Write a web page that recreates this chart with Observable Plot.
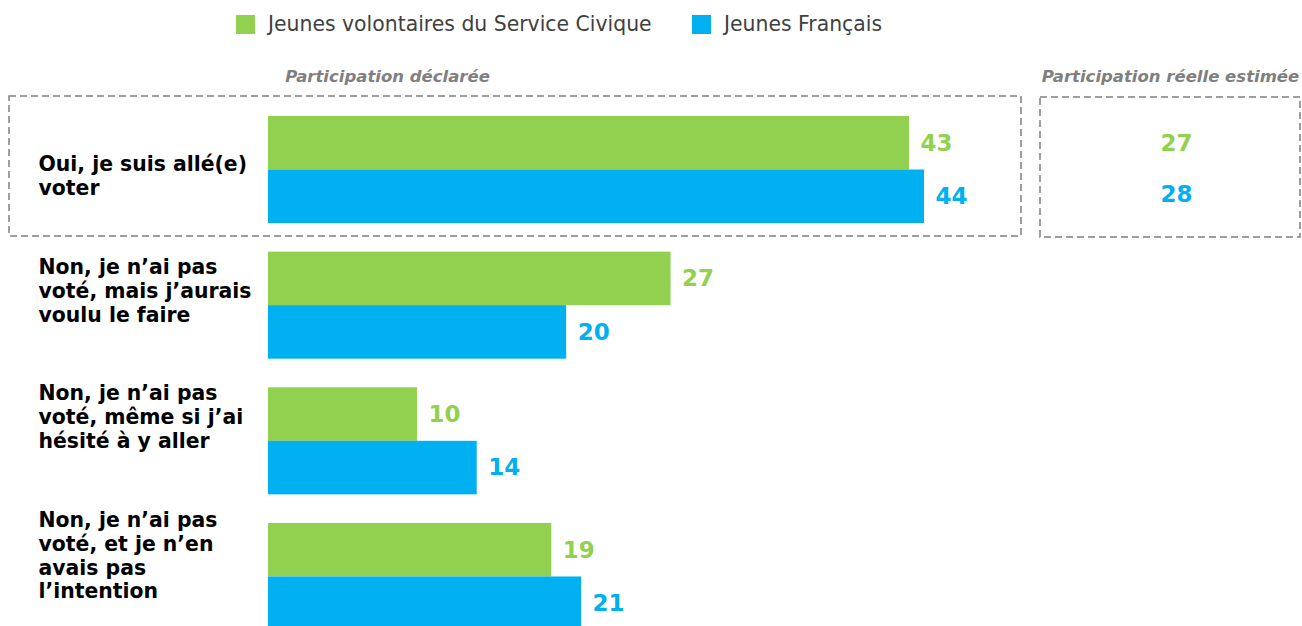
<!DOCTYPE html>
<html>
<head>
<meta charset="utf-8">
<script src="https://cdn.jsdelivr.net/npm/d3@7"></script>
<script src="https://cdn.jsdelivr.net/npm/@observablehq/plot@0.6"></script>
<style>
  html, body { margin: 0; padding: 0; background: #fff; overflow: hidden; }
  #legend { position: relative; width: 1302px; height: 56px; font-family: "DejaVu Sans", sans-serif; font-size: 20.4px; color: #404040; }
  #legend .sw { position: absolute; top: 15px; width: 19px; height: 19px; }
  #legend .lb { position: absolute; top: 11px; line-height: 26px; white-space: nowrap; }
  #chart svg { display: block; }
</style>
</head>
<body>
<div id="legend"></div>
<div id="chart"></div>
<script>
// ---- data ----
const categories = [
  "Oui, je suis allé(e)\nvoter",
  "Non, je n’ai pas\nvoté, mais j’aurais\nvoulu le faire",
  "Non, je n’ai pas\nvoté, même si j’ai\nhésité à y aller",
  "Non, je n’ai pas\nvoté, et je n’en\navais pas\nl’intention"
];
const series = ["Jeunes volontaires du Service Civique", "Jeunes Français"];
const volontaires = [43, 27, 10, 19];
const jeunes = [44, 20, 14, 21];
const reelleEstimee = [27, 28]; // volontaires, jeunes
const headers = ["Participation déclarée", "Participation réelle estimée"];

// ---- styles ----
const colors = ["#92D050", "#00B0F0"];
const grey = "#7F7F7F";
const font = "DejaVu Sans";

// legend (HTML above the svg)
const legend = document.getElementById("legend");
const legendPos = [[236, 268], [692, 724]];
series.forEach((s, i) => {
  const sw = document.createElement("div");
  sw.className = "sw"; sw.style.left = legendPos[i][0] + "px"; sw.style.background = colors[i];
  const lb = document.createElement("div");
  lb.className = "lb"; lb.style.left = legendPos[i][1] + "px"; lb.textContent = s;
  legend.appendChild(sw); legend.appendChild(lb);
});

const rows = categories.flatMap((c, i) => [
  {cat: c, serie: series[0], value: volontaires[i]},
  {cat: c, serie: series[1], value: jeunes[i]}
]);
const rowsV = rows.filter(d => d.serie === series[0]);
const rowsJ = rows.filter(d => d.serie === series[1]);
const reelle = series.map((s, i) => ({cat: categories[0], serie: s, value: reelleEstimee[i]}));

const half = 53.5;
const xMax = d3.max(rows, d => d.value);
const labelShift = [5, -15, -25, -22];

const boxStyle = {fill: "none", stroke: grey, strokeWidth: 1.5, strokeDasharray: "7,4"};
const valueStyle = {fill: "serie", fontSize: 23, fontWeight: "bold"};
const headerStyle = {frameAnchor: "top-left", dy: 14, text: d => d, textAnchor: "middle", fill: grey, fontSize: 16.5, fontWeight: "bold", fontStyle: "italic"};

const chart = Plot.plot({
  width: 1302,
  height: 570,
  margin: 0,
  style: {fontFamily: font, background: "white"},
  x: {domain: [0, xMax], range: [268, 924], axis: null},
  y: {domain: categories, range: [60, 574], paddingInner: 0.211, paddingOuter: 0, round: false, axis: null},
  color: {domain: series, range: colors},
  marks: [
    // dashed boxes
    Plot.barX([categories[0]], {y: d => d, x1: 0, x2: xMax, insetLeft: -259, insetRight: -97, insetTop: -20, insetBottom: -13, ...boxStyle}),
    Plot.barX([categories[0]], {y: d => d, x1: xMax, x2: xMax, insetLeft: 116, insetRight: -376, insetTop: -19, insetBottom: -14, ...boxStyle}),
    // column headers
    Plot.text([headers[0]], {...headerStyle, dx: 387}),
    Plot.text([headers[1]], {...headerStyle, dx: 1170}),
    // bars
    Plot.barX(rowsV, {x: "value", y: "cat", fill: "serie", insetBottom: half}),
    Plot.barX(rowsJ, {x: "value", y: "cat", fill: "serie", insetTop: half}),
    // value labels
    Plot.text(rowsV, {x: "value", y: "cat", text: d => String(d.value), dx: 11, dy: -half / 2, textAnchor: "start", ...valueStyle}),
    Plot.text(rowsJ, {x: "value", y: "cat", text: d => String(d.value), dx: 11, dy: half / 2, textAnchor: "start", ...valueStyle}),
    // estimated real participation
    Plot.text([reelle[0]], {y: "cat", frameAnchor: "right", dx: -126, dy: -26.5, text: d => String(d.value), textAnchor: "middle", ...valueStyle}),
    Plot.text([reelle[1]], {y: "cat", frameAnchor: "right", dx: -126, dy: 24.5, text: d => String(d.value), textAnchor: "middle", ...valueStyle}),
    // category labels
    ...categories.map((c, i) => Plot.text([c], {y: d => d, text: d => d, frameAnchor: "left", dx: 38, dy: labelShift[i], textAnchor: "start", lineAnchor: "middle", lineHeight: 1.17, fill: "#000", fontSize: 20.4, fontWeight: "bold"}))
  ]
});
document.getElementById("chart").appendChild(chart);
</script>
</body>
</html>
